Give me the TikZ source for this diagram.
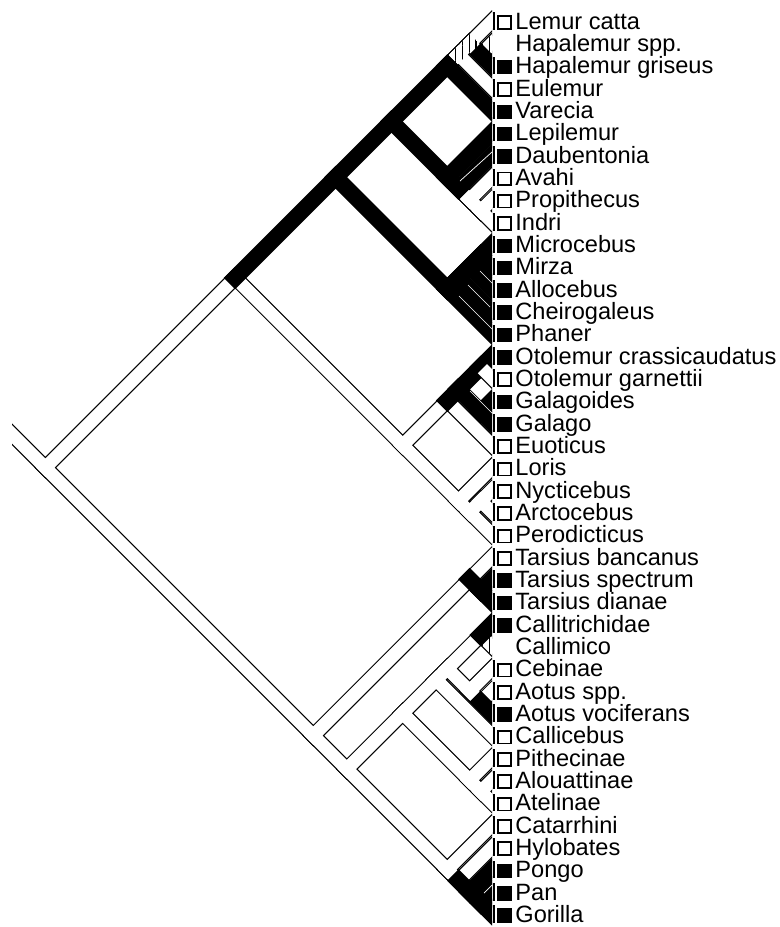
\documentclass[tikz,border=0pt]{standalone}
\usepackage{fontspec}
\setmainfont{Liberation Sans}
\usetikzlibrary{calc,patterns.meta}

\tikzset{
  outl/.style = {draw=black, line width=1.2pt},
  wbr/.style  = {fill=white},
  hbr/.style  = {fill=white, postaction={pattern={Lines[angle=90,distance=3.4pt,line width=0.55pt]}}},
  bbr/.style  = {fill=black, draw=black, line width=1.6pt},
  seam/.style = {draw=white, line width=0.35pt},
  lab/.style  = {anchor=base west, inner sep=0pt, font=\fontsize{11.8}{13}\selectfont},
  tipo/.style = {draw, fill=white, line width=0.9pt, minimum size=6.4pt, inner sep=0pt},
  tipf/.style = {tipo, fill=black},
  tipn/.style = {inner sep=0pt, minimum size=0pt},
  baro/.style = {fill=black, inner sep=0pt, minimum width=1.3pt, minimum height=8.8pt},
  barf/.style = {baro},
  barn/.style = {inner sep=0pt, minimum size=0pt}
}
% clade point from its first and last tip
\newcommand\clade[3]{\coordinate (#1) at ({492-11.165*(#3-#2)},{21+22.33*((#2+#3)/2-1)});}
% one branch as a strip with square ends
\newcommand\br[3]{\path[#1] ($(#2)!4.6pt!135:(#3)$) -- ($(#3)!4.6pt!-135:(#2)$)
  -- ($(#3)!4.6pt!135:(#2)$) -- ($(#2)!4.6pt!-135:(#3)$) -- cycle;}

\def\wlist{stub/root, root/strep, strep/lorf, lorf/gala, gala/t20, lorf/lori, lori/t21,
  lori/n2224, n2224/n2223, n2223/t22, n2223/t23, n2224/t24, n710/indr, indr/t8,
  indr/n910, n910/t9, n910/t10, n13/t1, n14/t4, root/hapl, hapl/tars, tars/t25,
  hapl/anth, anth/plat, plat/n2833, n2833/n2832, n2832/n2829, n2832/n3032, n3032/t30,
  n3032/n3132, n3132/t31, n2833/t33, plat/n3436, n3436/t34, n3436/n3536,
  n3536/t35, n3536/t36, anth/catr, catr/t37, catr/n3841, n3841/t38}
\def\hlist{lemd/n14, n14/n13, n13/n23, n23/t2, n2829/t29}
\def\blist{strep/lemf, lemf/n110, n110/lemd, lemd/t5, n23/t3, n110/n610, n610/t6,
  n610/n710, n710/t7, lemf/chei, chei/n1114, chei/t15, n1114/n1113, n1114/t14,
  n1113/n1112, n1113/t13, n1112/t11, n1112/t12, gala/n1619, n1619/n1617,
  n1617/t16, n1619/n1819, n1819/t18, n1819/t19, tars/n2627, n2627/t26,
  n2627/t27, n2829/t28, n3132/t32, n3841/n3941, n3941/t39, n3941/n4041,
  n4041/t40, n4041/t41}

\begin{document}
\begin{tikzpicture}[x={(0.5pt,0)}, y={(0,-0.5pt)}]
\useasboundingbox (0,0) rectangle (780,927);

\foreach \i in {1,...,41} {\clade{t\i}{\i}{\i}}
\clade{root}{1}{41}   \clade{strep}{1}{24}  \clade{lemf}{1}{15}
\clade{n110}{1}{10}   \clade{lemd}{1}{5}    \clade{n14}{1}{4}
\clade{n13}{1}{3}     \clade{n23}{2}{3}     \clade{n610}{6}{10}
\clade{n710}{7}{10}   \clade{indr}{8}{10}   \clade{n910}{9}{10}
\clade{chei}{11}{15}  \clade{n1114}{11}{14} \clade{n1113}{11}{13}
\clade{n1112}{11}{12} \clade{lorf}{16}{24}  \clade{gala}{16}{20}
\clade{n1619}{16}{19} \clade{n1617}{16}{17} \clade{n1819}{18}{19}
\clade{lori}{21}{24}  \clade{n2224}{22}{24} \clade{n2223}{22}{23}
\clade{hapl}{25}{41}  \clade{tars}{25}{27}  \clade{n2627}{26}{27}
\clade{anth}{28}{41}  \clade{plat}{28}{36}  \clade{n2833}{28}{33}
\clade{n2832}{28}{32} \clade{n2829}{28}{29} \clade{n3032}{30}{32}
\clade{n3132}{31}{32} \clade{n3436}{34}{36} \clade{n3536}{35}{36}
\clade{catr}{37}{41}  \clade{n3841}{38}{41} \clade{n3941}{39}{41}
\clade{n4041}{40}{41}
\coordinate (stub) at ($(root)+(-46,-46)$);

\begin{scope}
  \clip (12,0) rectangle (492,927);
  \foreach \a/\b in \wlist {\br{outl}{\a}{\b}}
  \foreach \a/\b in \hlist {\br{outl}{\a}{\b}}
  \foreach \a/\b in \wlist {\br{wbr}{\a}{\b}}
  \foreach \a/\b in \hlist {\br{hbr}{\a}{\b}}
  \foreach \a/\b in \blist {\br{bbr}{\a}{\b}}
  % Otolemur garnettii inside the black wedge
  \coordinate (og) at ($(n1617)!0.55!(t17)$);
  \br{outl}{og}{t17} \br{wbr}{og}{t17}
  \draw[seam] (460,181) -- (492,152);
  \draw[seam] (480,271) -- (492,283);
  \draw[seam] (468,285) -- (490,307);
  \draw[seam] (459,296) -- (492,329);
  \draw[seam] (470,391) -- (492,413);
  \draw[seam] (484,893) -- (492,885);
\end{scope}

\foreach \n/\s [count=\i] in {Lemur catta/o, Hapalemur spp./n, Hapalemur griseus/f,
  Eulemur/o, Varecia/f, Lepilemur/f, Daubentonia/f, Avahi/o, Propithecus/o, Indri/o,
  Microcebus/f, Mirza/f, Allocebus/f, Cheirogaleus/f, Phaner/f,
  Otolemur crassicaudatus/f, Otolemur garnettii/o, Galagoides/f, Galago/f, Euoticus/o,
  Loris/o, Nycticebus/o, Arctocebus/o, Perodicticus/o, Tarsius bancanus/o,
  Tarsius spectrum/f, Tarsius dianae/f, Callitrichidae/f, Callimico/n, Cebinae/o,
  Aotus spp./o, Aotus vociferans/f, Callicebus/o, Pithecinae/o, Alouattinae/o,
  Atelinae/o, Catarrhini/o, Hylobates/o, Pongo/f, Pan/f, Gorilla/f} {
  \pgfmathsetmacro\y{21+22.33*(\i-1)}
  \node[bar\s] (bar\i) at (494,\y) {};
  \node[tip\s] (box\i) at (504.5,\y+1.5) {};
  \node[lab] (lab\i) at (515,\y+8.2) {\n};
}
\end{tikzpicture}
\end{document}
